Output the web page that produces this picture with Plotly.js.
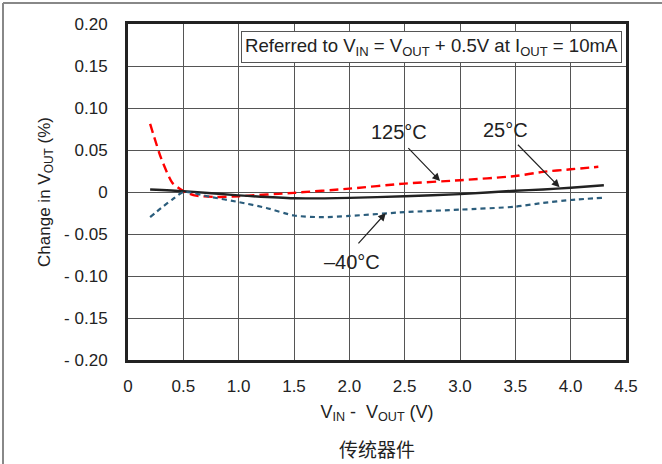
<!DOCTYPE html>
<html>
<head>
<meta charset="utf-8">
<script src="https://cdn.plot.ly/plotly-3.0.1.min.js"></script>
<style>html,body{margin:0;padding:0;background:#fff;}#chart{width:662px;height:464px;}</style>
</head>
<body>
<div id="chart"></div>
<script>
// ---- data ----
const x125 = [0.2, 0.3, 0.4, 0.5, 0.6, 0.8, 1.0, 1.5, 2.0, 2.5, 3.0, 3.5, 3.75, 4.0, 4.25];
const y125 = [0.081, 0.040, 0.011, 0.001, -0.004, -0.006, -0.005, -0.001, 0.004, 0.010, 0.014, 0.019, 0.024, 0.027, 0.030];

const x25 = [0.2, 0.5, 1.0, 1.5, 2.0, 2.5, 3.0, 3.5, 3.75, 4.0, 4.3];
const y25 = [0.003, 0.001, -0.004, -0.0075, -0.007, -0.005, -0.0025, 0.0015, 0.003, 0.005, 0.008];

const xm40 = [0.2, 0.3, 0.4, 0.5, 0.75, 1.0, 1.25, 1.5, 1.75, 2.0, 2.5, 3.0, 3.5, 3.75, 4.0, 4.3];
const ym40 = [-0.030, -0.019, -0.009, 0.0, -0.006, -0.012, -0.019, -0.028, -0.030, -0.0285, -0.024, -0.021, -0.0175, -0.013, -0.0095, -0.0068];

const xTickVals = [0, 0.5, 1.0, 1.5, 2.0, 2.5, 3.0, 3.5, 4.0, 4.5];
const xTickText = ['0', '0.5', '1.0', '1.5', '2.0', '2.5', '3.0', '3.5', '4.0', '4.5'];
const yTickVals = [0.20, 0.15, 0.10, 0.05, 0, -0.05, -0.10, -0.15, -0.20];
const yTickText = ['0.20', '0.15', '0.10', '0.05', '0', '- 0.05', '- 0.10', '- 0.15', '- 0.20'];

const seriesLabels = ['125°C', '25°C', '–40°C'];
// label text positions and arrow tips (data coords)
const labelX = [2.45, 3.41, 2.02];
const labelY = [0.071, 0.074, -0.083];
const tipX = [2.82, 3.90, 2.33];
const tipY = [0.013, 0.0056, -0.025];
const tailX = [2.52, 3.51, 2.07];
const tailY = [0.054, 0.058, -0.063];

const FONT = 'Liberation Sans, Arial, sans-serif';
const TXT = '#222';

const traces = [
  {x: x125, y: y125, mode: 'lines', name: '125°C', line: {color: '#ff0000', width: 2.4, dash: '9px,5px', shape: 'spline', smoothing: 0.6}},
  {x: x25, y: y25, mode: 'lines', name: '25°C', line: {color: '#222222', width: 2.4, shape: 'spline', smoothing: 0.6}},
  {x: xm40, y: ym40, mode: 'lines', name: '-40°C', line: {color: '#2b5d7c', width: 2.2, dash: '5px,4px', shape: 'spline', smoothing: 0.6}}
];

const annotations = [];
for (let i = 0; i < seriesLabels.length; i++) {
  annotations.push({x: labelX[i], y: labelY[i], xref: 'x', yref: 'y', text: seriesLabels[i], showarrow: false,
    font: {family: FONT, size: 20, color: TXT}});
  annotations.push({x: tipX[i], y: tipY[i], xref: 'x', yref: 'y', ax: tailX[i], ay: tailY[i], axref: 'x', ayref: 'y',
    text: '', showarrow: true, arrowhead: 2, arrowsize: 1.3, arrowwidth: 1.2, arrowcolor: '#222', standoff: 0, startstandoff: 0});
}
annotations.push({
  x: 0.992, y: 0.979, xref: 'paper', yref: 'paper', xanchor: 'right', yanchor: 'top',
  text: 'Referred to V<sub>IN</sub> = V<sub>OUT</sub> + 0.5V at I<sub>OUT</sub> = 10mA',
  showarrow: false, bgcolor: '#ffffff', bordercolor: '#555', borderwidth: 1, borderpad: 3,
  font: {family: FONT, size: 18.6, color: TXT}
});
annotations.push({
  x: 0.5, y: -0.262, xref: 'paper', yref: 'paper', xanchor: 'center', yanchor: 'middle',
  text: '传统器件', showarrow: false, font: {family: 'Noto Sans CJK SC, sans-serif', size: 19, color: TXT}
});

const layout = {
  width: 662, height: 464,
  margin: {l: 128, r: 36, t: 24, b: 104},
  paper_bgcolor: '#fff', plot_bgcolor: '#fff',
  showlegend: false,
  font: {family: FONT, size: 17, color: TXT},
  xaxis: {
    range: [0, 4.5], tickvals: xTickVals, ticktext: xTickText, showgrid: true, gridcolor: '#555', gridwidth: 1,
    zeroline: false, showline: true, linecolor: '#222', linewidth: 3, mirror: true, ticks: '',
    ticklabelstandoff: 9, tickfont: {family: FONT, size: 17, color: TXT},
    title: {text: 'V<sub>IN</sub> -  V<sub>OUT</sub> (V)', standoff: 10, font: {family: FONT, size: 18, color: TXT}}
  },
  yaxis: {
    range: [-0.20, 0.20], tickvals: yTickVals, ticktext: yTickText, showgrid: true, gridcolor: '#555', gridwidth: 1,
    zeroline: false, showline: true, linecolor: '#222', linewidth: 3, mirror: true, ticks: '',
    ticklabelstandoff: 14, tickfont: {family: FONT, size: 17, color: TXT},
    title: {text: 'Change in V<sub>OUT</sub> (%)', standoff: 10, font: {family: FONT, size: 17, color: TXT}}
  },
  annotations: annotations,
  shapes: [
    {type: 'line', xref: 'paper', yref: 'paper', x0: -0.251, x1: 1.08, y0: 1.0625, y1: 1.0625, line: {color: '#888', width: 2}},
    {type: 'line', xref: 'paper', yref: 'paper', x0: -0.251, x1: -0.251, y0: 1.0625, y1: -0.32, line: {color: '#888', width: 2}}
  ]
};

Plotly.newPlot('chart', traces, layout, {displayModeBar: false, staticPlot: true});
</script>
</body>
</html>
